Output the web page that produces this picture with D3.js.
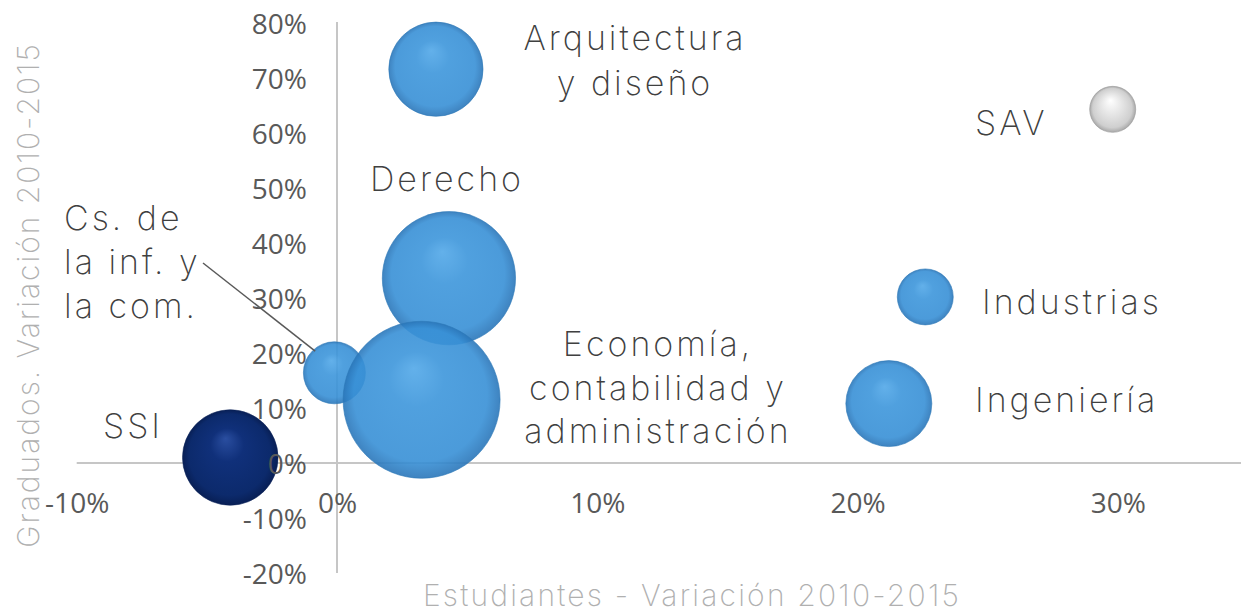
<!DOCTYPE html>
<html><head><meta charset="utf-8">
<script src="https://cdn.jsdelivr.net/npm/d3@7"></script>
<style>
html,body{margin:0;padding:0;background:#fff;}
svg{display:block;}
</style></head>
<body>
<svg id="chart" width="1241" height="612"></svg>
<script>
// ---- data ----
const categories = ["Arquitectura y diseño","SAV","Derecho","Industrias","Cs. de la inf. y la com.","Economía, contabilidad y administración","Ingeniería","SSI"];
const studentsVar = [0.038, 0.298, 0.043, 0.226, -0.001, 0.0325, 0.212, -0.041];
const graduatesVar = [0.716, 0.643, 0.336, 0.302, 0.164, 0.115, 0.108, 0.010];
const bubbleSize = [36, 8.6, 72, 12.7, 15.6, 100, 30, 37];
const groups = ["blue","gray","blue","blue","blue","blue","blue","navy"];
const labelLines = [["Arquitectura","y diseño"],["SAV"],["Derecho"],["Industrias"],["Cs. de","la inf. y","la com."],["Economía,","contabilidad  y","administración"],["Ingeniería"],["SSI"]];
const xTicks = [-0.1, 0, 0.1, 0.2, 0.3];
const yTicks = [-0.2, -0.1, 0, 0.1, 0.2, 0.3, 0.4, 0.5, 0.6, 0.7, 0.8];
const xTitle = "Estudiantes - Variación 2010-2015";
const yTitle = "Graduados. Variación 2010-2015";

// ---- layout ----
const labelLayout = [
  {x:635, y:50, anchor:"middle", lh:45},
  {x:975, y:135, anchor:"start", lh:45},
  {x:370, y:191, anchor:"start", lh:45},
  {x:982, y:314, anchor:"start", lh:45},
  {x:64, y:230, anchor:"start", lh:44},
  {x:658, y:356, anchor:"middle", lh:43.5},
  {x:975, y:412, anchor:"start", lh:45},
  {x:103, y:438, anchor:"start", lh:45}
];

const svg = d3.select("#chart");
const x = d3.scaleLinear().domain([-0.1, 0.35]).range([76.7, 76.7 + 4.5 * 260.3]);
const y = d3.scaleLinear().domain([-0.2, 0.8]).range([573, 23]);
const r = d3.scaleSqrt().domain([0, 100]).range([0, 78.5]);
const pct = d => d3.format(".0%")(d).replace("\u2212", "-");

const defs = svg.append("defs");
function grad(id, stops) {
  const g = defs.append("radialGradient").attr("id", id)
    .attr("cx", "50%").attr("cy", "50%").attr("r", "50%").attr("fx", "45%").attr("fy", "30%");
  stops.forEach(s => g.append("stop").attr("offset", s[0]).attr("stop-color", s[1]));
}
grad("g-blue", [[0, "#52a8e8"], [0.35, "#3d96db"], [0.85, "#3890d6"], [1, "#2a76b9"]]);
grad("g-navy", [[0, "#2a4ea0"], [0.35, "#10307a"], [0.85, "#0c2a6c"], [1, "#081f55"]]);
grad("g-gray", [[0, "#ffffff"], [0.3, "#eeeeee"], [0.85, "#cfcfcf"], [1, "#a8a8a8"]]);
const strokeCol = {blue:"#2c78b8", navy:"#0a2258", gray:"#9a9a9a"};

// axis lines (behind bubbles)
svg.append("line").attr("x1", x(-0.1)).attr("x2", x(0.35)).attr("y1", y(0)).attr("y2", y(0))
  .attr("stroke", "#c6c6c6").attr("stroke-width", 2);
svg.append("line").attr("x1", x(0)).attr("x2", x(0)).attr("y1", y(0.8) - 1).attr("y2", y(-0.2))
  .attr("stroke", "#c6c6c6").attr("stroke-width", 2);

// bubbles
const order = d3.range(categories.length);
svg.append("g").selectAll("circle").data(order).join("circle")
  .attr("cx", i => x(studentsVar[i]))
  .attr("cy", i => y(graduatesVar[i]))
  .attr("r", i => r(bubbleSize[i]))
  .attr("fill", i => `url(#g-${groups[i]})`)
  .attr("fill-opacity", i => groups[i] === "blue" ? 0.9 : 1)
  .attr("stroke", i => strokeCol[groups[i]])
  .attr("stroke-opacity", 0.6)
  .attr("stroke-width", 1);

// tick labels
const tickFont = "'Open Sans', 'Liberation Sans', sans-serif";
const xa = svg.append("g").attr("transform", `translate(0,${y(0)})`)
  .call(d3.axisBottom(x).tickValues(xTicks).tickFormat(pct).tickSize(0).tickPadding(30));
const ya = svg.append("g").attr("transform", `translate(${x(0)},0)`)
  .call(d3.axisLeft(y).tickValues(yTicks).tickFormat(pct).tickSize(0).tickPadding(30));
[xa, ya].forEach(a => {
  a.select(".domain").remove();
  a.selectAll("text").attr("font-family", tickFont).attr("font-size", 28).attr("fill", "#595959");
});
ya.selectAll("text").attr("dy", "0.36em");

// labels
const labelFont = "Inter, Lato, sans-serif";
const lg = svg.append("g");
order.forEach(i => {
  const L = labelLayout[i];
  const t = lg.append("text").attr("x", L.x).attr("y", L.y).attr("text-anchor", L.anchor)
    .attr("font-family", labelFont).attr("font-weight", 200).attr("font-size", 34)
    .attr("fill", "#404040").attr("letter-spacing", 3);
  labelLines[i].forEach((s, k) => t.append("tspan").attr("x", L.x).attr("dy", k === 0 ? 0 : L.lh).text(s));
});
// leader line for Cs. de la inf.
svg.append("line").attr("x1", 203).attr("y1", 263)
  .attr("x2", x(studentsVar[4]) - r(bubbleSize[4]) * 0.62).attr("y2", y(graduatesVar[4]) - r(bubbleSize[4]) * 0.7)
  .attr("stroke", "#595959").attr("stroke-width", 1.5);

// axis titles
svg.append("text").attr("x", 692).attr("y", 606).attr("text-anchor", "middle")
  .attr("font-family", labelFont).attr("font-weight", 200).attr("font-size", 30)
  .attr("fill", "#b0b0b0").attr("letter-spacing", 2.2).text(xTitle);
svg.append("text").attr("transform", "translate(39,295) rotate(-90)").attr("text-anchor", "middle")
  .attr("font-family", labelFont).attr("font-weight", 200).attr("font-size", 30)
  .attr("fill", "#b0b0b0").attr("letter-spacing", 2.0).text(yTitle);
</script>
</body></html>
